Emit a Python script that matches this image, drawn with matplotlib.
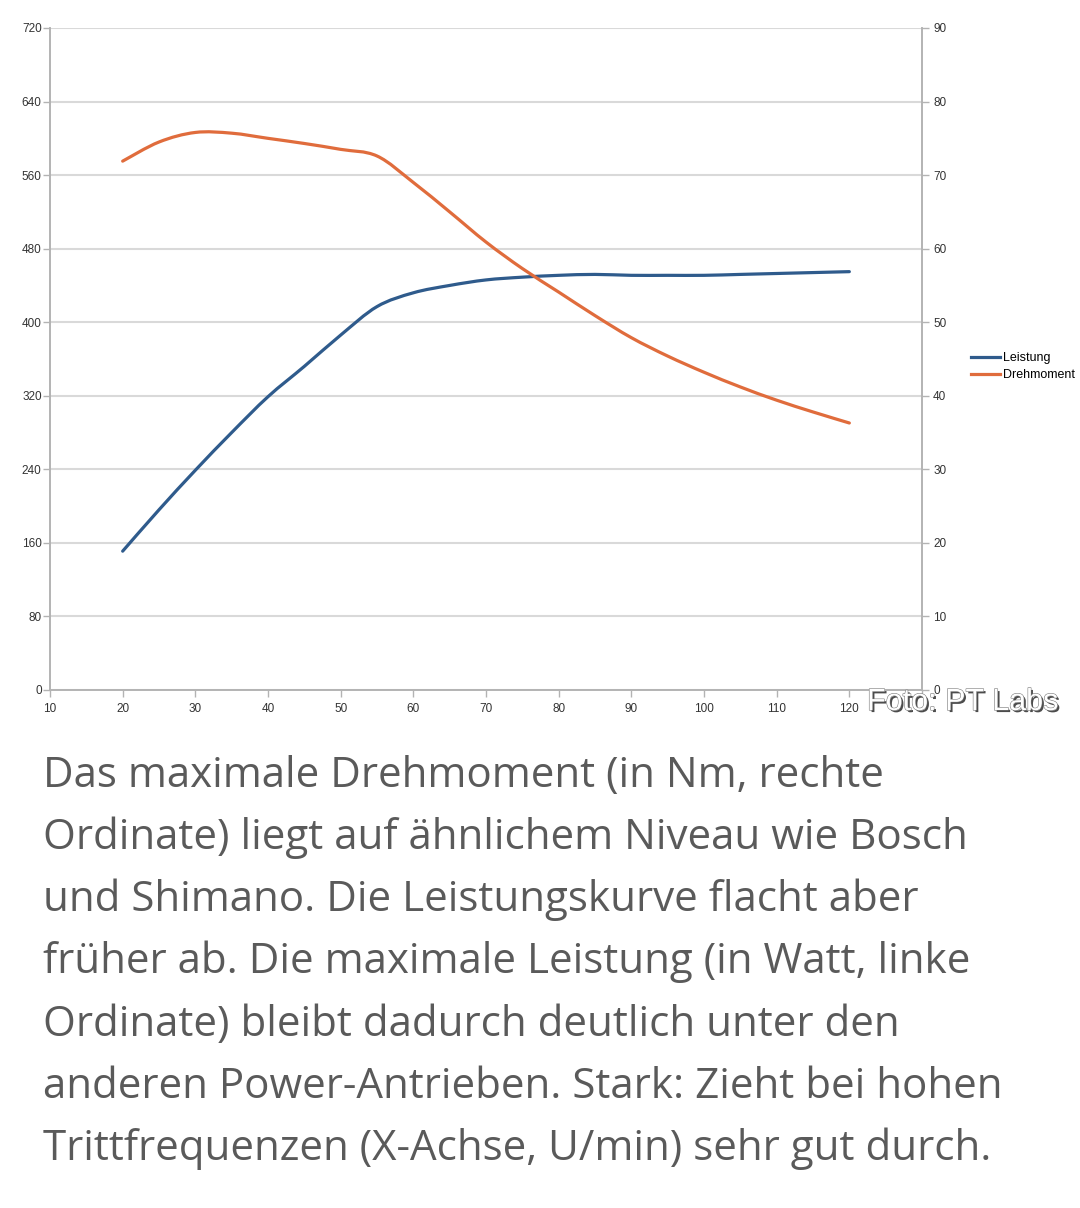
import matplotlib.pyplot as plt
import matplotlib.patheffects as pe
from matplotlib.path import Path
from matplotlib.patches import PathPatch
from matplotlib.lines import Line2D

# Trittfrequenz (U/min)
cadence = [20, 25, 30, 35, 40, 45, 50, 55, 60, 65, 70, 75, 80, 85, 90, 95, 100, 105, 110, 115, 120]
# Leistung in Watt (linke Achse)
power = [151, 196, 239, 280, 319, 352, 386, 417, 432, 440, 446, 449, 451, 452, 451, 451, 451, 452, 453, 454, 455]
# Drehmoment in Nm (rechte Achse)
torque = [71.9, 74.5, 75.8, 75.7, 75.0, 74.3, 73.5, 72.6, 69.0, 65.0, 60.9, 57.3, 54.1, 50.9, 47.9, 45.4, 43.2, 41.2, 39.4, 37.8, 36.3]

x_ticks = list(range(10, 131, 10))
x_labels = [str(v) for v in range(10, 121, 10)] + ['']
left_ticks = list(range(0, 721, 80))
right_ticks = list(range(0, 91, 10))

caption_lines = [
    "Das maximale Drehmoment (in Nm, rechte",
    "Ordinate) liegt auf ähnlichem Niveau wie Bosch",
    "und Shimano. Die Leistungskurve flacht aber",
    "früher ab. Die maximale Leistung (in Watt, linke",
    "Ordinate) bleibt dadurch deutlich unter den",
    "anderen Power-Antrieben. Stark: Zieht bei hohen",
    "Trittfrequenzen (X-Achse, U/min) sehr gut durch.",
]

blue = '#2f5b8c'
orange = '#e06c3c'
grid_col = '#d9d9d9'
axis_col = '#b3b3b3'


def spline_path(xs, ys):
    # geglaettete Linie wie im Tabellenprogramm (Bezier durch die Messpunkte)
    verts = [(xs[0], ys[0])]
    codes = [Path.MOVETO]
    n = len(xs)
    for i in range(n - 1):
        x0, y0 = (xs[i - 1], ys[i - 1]) if i > 0 else (xs[i], ys[i])
        x1, y1 = xs[i], ys[i]
        x2, y2 = xs[i + 1], ys[i + 1]
        x3, y3 = (xs[i + 2], ys[i + 2]) if i + 2 < n else (x2, y2)
        c1 = (x1 + (x2 - x0) / 6, y1 + (y2 - y0) / 6)
        c2 = (x2 - (x3 - x1) / 6, y2 - (y3 - y1) / 6)
        verts += [c1, c2, (x2, y2)]
        codes += [Path.CURVE4] * 3
    return Path(verts, codes)


W, H = 1080, 1208
fig = plt.figure(figsize=(W / 100, H / 100), dpi=100)
ax = fig.add_axes([50 / W, 1 - 690 / H, (922 - 50) / W, (690 - 28) / H])
ax2 = ax.twinx()

ax.set_xlim(10, 130)
ax.set_ylim(0, 720)
ax2.set_ylim(0, 90)
ax.set_xticks(x_ticks, x_labels)
ax.set_yticks(left_ticks)
ax2.set_yticks(right_ticks)

ax.grid(axis='y', color=grid_col, linewidth=1.5)
ax.set_axisbelow(True)

for a in (ax, ax2):
    a.spines['top'].set_visible(False)
    for s in ('left', 'right', 'bottom'):
        a.spines[s].set_color(axis_col)
        a.spines[s].set_linewidth(1.2)
    a.tick_params(colors=axis_col, length=5, width=1)
ax.tick_params(axis='y', pad=1)
ax.tick_params(axis='x', pad=4)
ax2.tick_params(axis='y', pad=3)
for lbl in ax.get_xticklabels() + ax.get_yticklabels() + ax2.get_yticklabels():
    lbl.set_fontfamily('Liberation Sans')
    lbl.set_fontsize(8.5)
    lbl.set_color('#333333')

ax.add_patch(PathPatch(spline_path(cadence, power), facecolor='none', edgecolor=blue,
                       linewidth=2.3, capstyle='round', joinstyle='round'))
ax2.add_patch(PathPatch(spline_path(cadence, torque), facecolor='none', edgecolor=orange,
                        linewidth=2.3, capstyle='round', joinstyle='round'))

handles = [Line2D([], [], color=blue, linewidth=2.3, label='Leistung'),
           Line2D([], [], color=orange, linewidth=2.3, label='Drehmoment')]
fig.legend(handles=handles, loc='center left', bbox_to_anchor=(960 / W, 1 - 367 / H),
           frameon=False, handlelength=2.3, handletextpad=0.25, labelspacing=0.4,
           prop={'family': 'Liberation Sans', 'size': 9})

# Bildnachweis
fig.text(867 / W, 1 - 710 / H, 'Foto: PT Labs', color='white', fontsize=22,
         family='Liberation Sans', va='baseline', ha='left', zorder=10,
         path_effects=[pe.SimplePatchShadow(offset=(1.5, -1.5), shadow_rgbFace='black', alpha=0.7),
                       pe.Stroke(linewidth=0.8, foreground='#777777'), pe.Normal()])

# Bildunterschrift
baselines = [787, 849, 911, 973, 1036, 1098, 1160]
for line, yb in zip(caption_lines, baselines):
    fig.text(43 / W, 1 - yb / H, line, fontsize=30.3, family='Open Sans',
             color='#5a5a5a', va='baseline', ha='left')

fig.savefig('out.png', dpi=100, facecolor='white')
